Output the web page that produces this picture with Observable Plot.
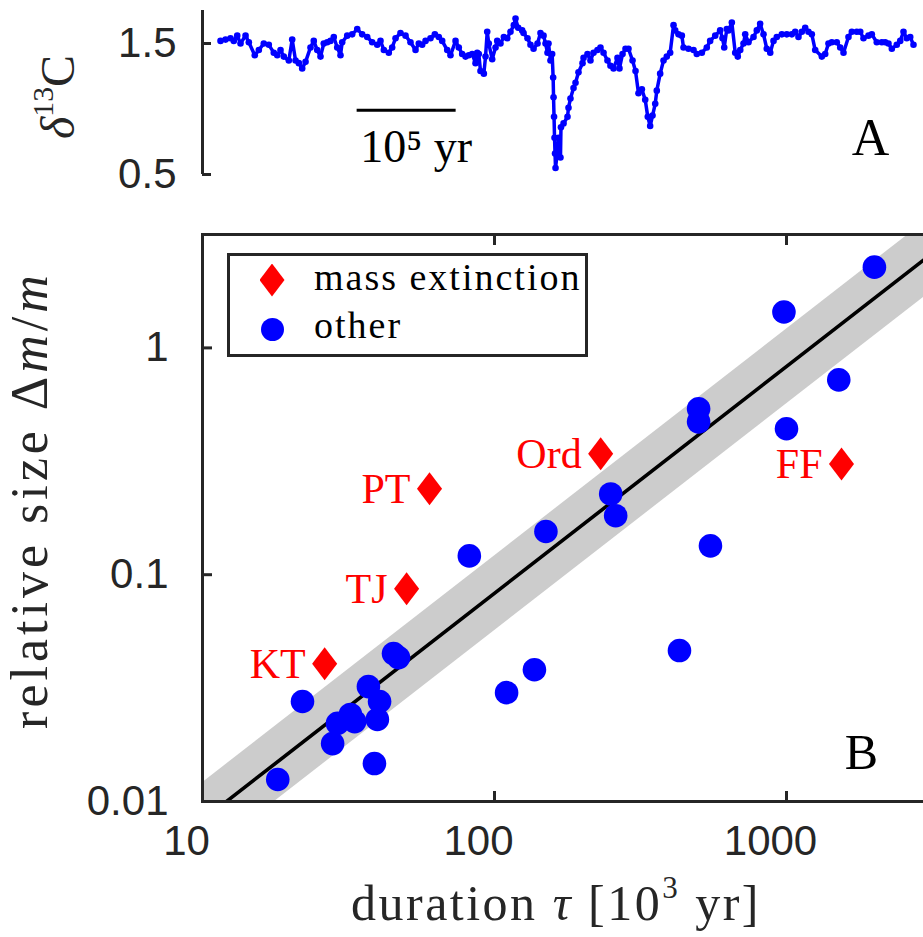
<!DOCTYPE html>
<html><head><meta charset="utf-8">
<script src="https://cdn.jsdelivr.net/npm/d3@7"></script>
<script src="https://cdn.jsdelivr.net/npm/@observablehq/plot@0.6"></script>
<style>
html,body{margin:0;padding:0;background:#fff;overflow:hidden;}
#wrap{position:relative;width:923px;height:937px;overflow:hidden;background:#fff;}
.abs{position:absolute;}
.serif{font-family:"Liberation Serif","Times New Roman",serif;color:#262626;white-space:nowrap;}
sup{font-size:0.62em;vertical-align:0.72em;line-height:0;}
</style></head><body><div id="wrap"></div>
<script>
// ---------- Panel A: delta13C time series (time in kyr) ----------
const d13cT = [0,5.1,10.1,13.4,16.9,20.2,25.3,28.6,34.6,38.7,
43.7,48.8,53.8,57.3,60.6,63.9,69.0,72.4,75.8,79.1,
82.5,85.9,90.9,94.2,97.7,101.0,104.3,107.8,111.1,114.4,
117.9,121.2,122.9,128.0,133.0,138.1,143.1,148.2,153.2,158.3,
161.6,165.0,170.0,173.4,176.8,181.8,186.9,191.9,197.0,200.3,
203.7,207.1,212.1,216.5,220.5,223.9,229.0,232.3,237.4,240.7,
244.1,247.5,250.8,254.2,257.6,259.3,260.9,262.6,266.0,267.7,
269.4,271.0,274.4,277.8,279.5,282.8,286.2,289.6,292.9,296.3,
298.0,300.7,304.7,306.1,310.1,313.1,316.2,320.2,323.2,326.3,
328.3,330.3,331.3,333.3,335.0,336.0,336.4,336.9,337.4,337.9,
338.4,340.4,341.4,343.4,343.9,346.5,350.5,351.5,353.5,356.6,
358.6,361.6,365.7,366.7,370.7,373.7,376.8,380.8,383.8,386.9,
390.9,393.9,397.0,401.0,403.0,406.1,409.1,412.1,416.2,419.2,
422.2,425.6,429.0,431.6,434.0,436.4,439.1,440.7,444.1,447.5,
450.8,454.2,457.6,459.3,462.6,466.0,467.7,472.7,477.8,481.1,
486.2,491.2,494.6,499.7,504.7,507.1,508.8,511.4,513.1,516.5,
519.9,522.5,525.0,528.3,530.0,533.3,538.4,541.7,545.1,548.5,
551.8,555.3,558.6,561.9,567.0,572.0,577.1,580.5,583.8,587.2,
590.6,593.9,597.3,600.7,607.4,610.8,614.1,617.5,622.5,626.0,
629.3,634.3,637.7,642.7,646.2,649.5,654.5,657.9,662.9,668.0,
671.4,674.7,678.1,683.1,686.6,689.9,693.2,696.7,700.0];
const d13cV = [1.52,1.53,1.54,1.52,1.56,1.50,1.56,1.51,1.41,1.45,
1.50,1.49,1.43,1.41,1.45,1.40,1.37,1.53,1.37,1.35,
1.31,1.36,1.47,1.52,1.45,1.40,1.50,1.51,1.52,1.55,
1.47,1.41,1.51,1.56,1.57,1.61,1.57,1.55,1.51,1.49,
1.52,1.45,1.43,1.47,1.54,1.58,1.56,1.51,1.45,1.50,
1.49,1.52,1.54,1.57,1.55,1.52,1.45,1.41,1.52,1.47,
1.42,1.40,1.41,1.42,1.35,1.43,1.42,1.29,1.27,1.40,
1.59,1.50,1.38,1.47,1.52,1.50,1.55,1.54,1.59,1.64,
1.69,1.62,1.60,1.58,1.54,1.49,1.46,1.50,1.58,1.56,
1.50,1.43,1.50,1.37,1.42,1.24,1.09,0.94,0.78,0.66,
0.55,0.68,0.78,0.63,0.86,0.89,0.94,1.01,1.08,1.16,
1.20,1.28,1.35,1.39,1.42,1.37,1.43,1.45,1.47,1.43,
1.37,1.33,1.31,1.39,1.31,1.42,1.46,1.46,1.37,1.29,
1.12,1.15,1.07,0.94,0.87,0.95,1.04,1.14,1.27,1.37,
1.40,1.43,1.64,1.60,1.57,1.56,1.47,1.46,1.45,1.42,
1.43,1.47,1.52,1.56,1.60,1.54,1.47,1.61,1.60,1.66,
1.43,1.40,1.45,1.50,1.57,1.51,1.55,1.60,1.65,1.57,
1.46,1.43,1.52,1.55,1.57,1.57,1.57,1.59,1.55,1.59,
1.62,1.59,1.57,1.45,1.40,1.42,1.50,1.51,1.51,1.47,
1.43,1.55,1.59,1.59,1.59,1.54,1.56,1.57,1.51,1.51,
1.51,1.50,1.46,1.49,1.52,1.59,1.54,1.55,1.49];
const topXDomain = [-18.2, 700];
const topYDomain = [0.5, 1.752];
const topYTicks = [0.5, 1.5];
const scaleBarT = [138, 238];     // 10^5 yr scale bar (kyr)
const scaleBarV = 0.99;
const scaleBarLabel = "10\u2075 yr";

// ---------- Panel B: relative size vs duration ----------
const otherTau  = [2000, 980, 1510, 500, 500, 1000, 250, 260, 150, 82, 549, 430, 137, 110, 45.1, 46.9, 22.0, 37.0, 40.4, 39.7, 32.1, 33.2, 29.0, 27.9, 38.8, 18.1];
const otherSize = [2.27, 1.44, 0.723, 0.539, 0.472, 0.44, 0.227, 0.182, 0.155, 0.121, 0.134, 0.0463, 0.0381, 0.0302, 0.0449, 0.0431, 0.0276, 0.0321, 0.0276, 0.0230, 0.0242, 0.0225, 0.0221, 0.0180, 0.0147, 0.0125];
const extNames = ["PT", "Ord", "FF", "TJ", "KT"];
const extTau   = [59.9, 231, 1543, 50.0, 26.2];
const extSize  = [0.239, 0.341, 0.308, 0.0867, 0.0405];
const xDomain = [10, 3162.3];
const yDomain = [0.01, 3.162];
const xTickVals = [10, 100, 1000];
const yTickVals = [0.01, 0.1, 1];
const fitTau = [10, 3162.3];
const fitCoef = 0.000828, fitSlope = 1, bandFactor = 1.462;

const AX = "#262626";
const BLUE = "#0000ff", RED = "#ff0000";
const SERIF = "Liberation Serif, Times New Roman, serif";
const wrap = document.getElementById("wrap");

// ---- Panel A
const series = d13cT.map((t, i) => ({t, v: d13cV[i]}));
const topPlot = Plot.plot({
  width: 923, height: 195,
  marginLeft: 202, marginRight: 10, marginTop: 10, marginBottom: 21,
  style: "max-width:none;background:transparent;overflow:visible;font-family:'Liberation Sans',Arial,sans-serif;font-size:42px;color:#262626;",
  x: {domain: topXDomain, axis: null, label: null},
  y: {domain: topYDomain, label: null},
  marks: [
    Plot.ruleX([topXDomain[0]], {y1: topYDomain[0], y2: topYDomain[1], stroke: AX, strokeWidth: 3}),
    Plot.axisY({ticks: topYTicks, tickSize: 9, dx: 9, tickFormat: () => "", stroke: AX, strokeWidth: 3, label: null}),
    Plot.axisY({ticks: topYTicks, tickSize: 0, tickPadding: 26, tickFormat: d => String(d), label: null}),
    Plot.line(series, {x: "t", y: "v", stroke: BLUE, strokeWidth: 3.5, strokeLinejoin: "round"}),
    Plot.dot(series, {x: "t", y: "v", r: 3.3, fill: BLUE}),
    Plot.ruleY([scaleBarV], {x1: scaleBarT[0], x2: scaleBarT[1], stroke: "#000", strokeWidth: 3}),
    Plot.text([scaleBarLabel], {x: scaleBarT[0], y: scaleBarV, text: d => d, textAnchor: "start", lineAnchor: "bottom", dx: 3, dy: 52, fontFamily: SERIF, fontSize: 46, fill: "#000"}),
    Plot.text(["A"], {frameAnchor: "bottom-right", text: d => d, textAnchor: "middle", lineAnchor: "bottom", dx: -43, dy: -20, fontFamily: SERIF, fontSize: 52, fill: "#000"})
  ]
});
topPlot.style.position = "absolute"; topPlot.style.left = "0px"; topPlot.style.top = "0px";
wrap.appendChild(topPlot);

// ---- Panel B
const others = otherTau.map((tau, i) => ({tau, size: otherSize[i]}));
const ext = extTau.map((tau, i) => ({tau, size: extSize[i], name: extNames[i]}));
const fitData = fitTau.map(tau => {
  const f = fitCoef * Math.pow(tau, fitSlope);
  return {tau, fit: f, lo: f / bandFactor, hi: f * bandFactor};
});
const tallDiamond = {
  draw(context, size) {
    const r = Math.sqrt(size / Math.PI);
    const w = r * 0.76;
    context.moveTo(0, -r); context.lineTo(w, 0); context.lineTo(0, r); context.lineTo(-w, 0); context.closePath();
  }
};
const botPlot = Plot.plot({
  width: 945, height: 737,
  marginLeft: 202, marginRight: 13, marginTop: 34, marginBottom: 136,
  style: "max-width:none;background:transparent;overflow:visible;font-family:'Liberation Sans',Arial,sans-serif;font-size:42px;color:#262626;",
  x: {type: "log", domain: xDomain, label: null},
  y: {type: "log", domain: yDomain, label: null},
  marks: [
    Plot.areaY(fitData, {x: "tau", y1: "lo", y2: "hi", fill: "#cccccc", clip: true}),
    Plot.line(fitData, {x: "tau", y: "fit", stroke: "#000", strokeWidth: 3.6, clip: true}),
    Plot.dot(others, {x: "tau", y: "size", r: 11.8, fill: BLUE}),
    Plot.dot(ext, {x: "tau", y: "size", r: 16.5, symbol: tallDiamond, fill: RED}),
    Plot.text(ext, {x: "tau", y: "size", text: "name", textAnchor: "end", dx: -19, dy: 1, fill: RED, fontFamily: SERIF, fontSize: 42}),
    Plot.text(["B"], {frameAnchor: "bottom-right", text: d => d, textAnchor: "middle", lineAnchor: "bottom", dx: -71, dy: -33, fontFamily: SERIF, fontSize: 50, fill: "#000"}),
    Plot.axisX({anchor: "bottom", ticks: [100, 1000], tickSize: 10, dy: -10, tickFormat: () => "", stroke: AX, strokeWidth: 3, label: null}),
    Plot.axisX({anchor: "top", ticks: [100, 1000], tickSize: 10, dy: 10, tickFormat: () => "", stroke: AX, strokeWidth: 3, label: null}),
    Plot.axisY({anchor: "left", ticks: [0.1, 1], tickSize: 10, dx: 10, tickFormat: () => "", stroke: AX, strokeWidth: 3, label: null}),
    Plot.axisY({anchor: "right", ticks: [0.1, 1], tickSize: 10, dx: -10, tickFormat: () => "", stroke: AX, strokeWidth: 3, label: null}),
    Plot.axisX({anchor: "bottom", ticks: xTickVals, tickSize: 0, tickPadding: 24, dx: -16, tickFormat: d => String(d), label: null}),
    Plot.axisY({anchor: "left", ticks: yTickVals, tickSize: 0, tickPadding: 34, tickFormat: d => String(d), label: null}),
    Plot.frame({stroke: AX, strokeWidth: 3})
  ]
});
botPlot.style.position = "absolute"; botPlot.style.left = "0px"; botPlot.style.top = "200px";
wrap.appendChild(botPlot);

// ---- Titles and legend (HTML text)
function addDiv(html, css, cls) {
  const d = document.createElement("div");
  d.className = "abs " + (cls || "");
  d.innerHTML = html;
  d.style.cssText += css;
  wrap.appendChild(d);
  return d;
}
// x title
addDiv('duration <i>τ</i> [10<sup>3</sup> yr]',
  "left:256px;top:878px;width:600px;text-align:center;font-size:50px;line-height:50px;letter-spacing:2.5px;", "serif");
// y title (rotated)
addDiv('relative size Δ<i>m</i>/<i>m</i>',
  "left:" + (30 - 300) + "px;top:" + (500 - 26) + "px;width:600px;height:52px;text-align:center;font-size:52px;line-height:52px;letter-spacing:4px;transform:rotate(-90deg);transform-origin:50% 50%;", "serif");
// top y title
addDiv('<i>δ</i><sup>13</sup>C',
  "left:" + (58 - 100) + "px;top:" + (97 - 24) + "px;width:200px;height:48px;text-align:center;font-size:48px;line-height:48px;transform:rotate(-90deg);transform-origin:50% 50%;", "serif");
// legend
const leg = addDiv('', "left:227px;top:253px;width:355px;height:98px;border:3px solid #262626;background:#fff;");
leg.innerHTML =
  '<div style="position:absolute;left:29.5px;top:7.5px;width:25px;height:33px;background:#ff0000;clip-path:polygon(50% 0,100% 50%,50% 100%,0 50%);"></div>' +
  '<div style="position:absolute;left:30.5px;top:61.5px;width:23px;height:23px;border-radius:50%;background:#0000ff;"></div>' +
  '<div class="serif" style="position:absolute;left:84px;top:2px;font-size:38px;line-height:38px;letter-spacing:2px;color:#000;">mass extinction</div>' +
  '<div class="serif" style="position:absolute;left:84px;top:50px;font-size:38px;line-height:38px;letter-spacing:2px;color:#000;">other</div>';
</script></body></html>
